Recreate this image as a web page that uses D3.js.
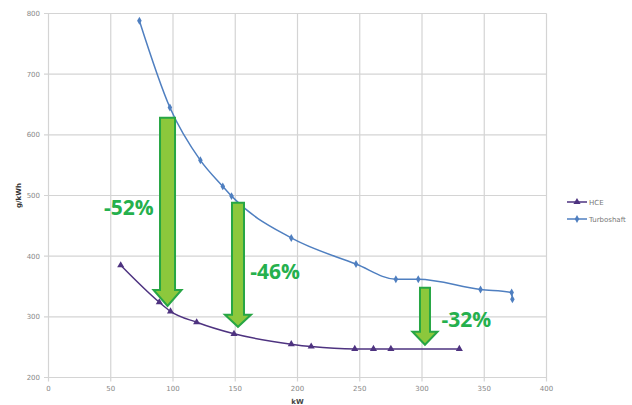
<!DOCTYPE html>
<html><head><meta charset="utf-8">
<script src="https://cdn.jsdelivr.net/npm/d3@7"></script>
<style>body{margin:0;background:#fff}svg{display:block}</style>
</head><body><svg id="c" width="632" height="405"></svg>
<script>
const xTicks = [0,50,100,150,200,250,300,350,400];
const yTicks = [200,300,400,500,600,700,800];
const hceX = [58,89,98,119,149,195,211,246,261,275,330];
const hceY = [385,324,309,291,272,255,251,247,247,247,247];
const turboX = [73,97.5,122,140,147,195,247,279,297,347,372,372.6];
const turboY = [788,645,558,515,499,430,387,362,362,345,340,329];
const seriesNames = ["HCE","Turboshaft"];
const arrowX = [95.6,152.2,302.4];
const arrowTop = [628,488,348];
const arrowTip = [318,283.5,254];
const labelText = ["-52%","-46%","-32%"];
const labelX = [64.6,182,335.7];
const labelY = [481,374,295];

const svg = d3.select("#c");
const x = d3.scaleLinear().domain([0,400]).range([48.5,546.5]);
const y = d3.scaleLinear().domain([200,800]).range([377.5,13.5]);

// grid
svg.append("g").selectAll("line").data(yTicks).join("line")
  .attr("x1",44).attr("x2",x(400)).attr("y1",d=>y(d)).attr("y2",d=>y(d))
  .attr("stroke","#d4d4d4").attr("stroke-width",1.2);
svg.append("g").selectAll("line").data(xTicks).join("line")
  .attr("x1",d=>x(d)).attr("x2",d=>x(d)).attr("y1",y(800)).attr("y2",y(200)+4)
  .attr("stroke","#d4d4d4").attr("stroke-width",1.2);

// tick labels
svg.append("g").selectAll("text").data(yTicks).join("text")
  .attr("x",40).attr("y",d=>y(d)+2.5).attr("text-anchor","end")
  .attr("font-family","DejaVu Sans").attr("font-size",7).attr("fill","#888").text(d=>d);
svg.append("g").selectAll("text").data(xTicks).join("text")
  .attr("x",d=>x(d)).attr("y",391).attr("text-anchor","middle")
  .attr("font-family","DejaVu Sans").attr("font-size",7).attr("fill","#888").text(d=>d);
svg.append("text").attr("x",x(200)).attr("y",404).attr("text-anchor","middle")
  .attr("font-family","DejaVu Sans").attr("font-size",7).attr("font-weight","bold").attr("fill","#444").text("kW");
svg.append("text").attr("transform","translate(21,"+y(500)+") rotate(-90)").attr("text-anchor","middle")
  .attr("font-family","DejaVu Sans").attr("font-size",7).attr("font-weight","bold").attr("fill","#333").text("g/kWh");

const hceC = "#4e3380", turboC = "#4f7fc0";
const line = d3.line().x(d=>x(d[0])).y(d=>y(d[1])).curve(d3.curveMonotoneX);
const hce = hceX.map((v,i)=>[v,hceY[i]]);
const turbo = turboX.map((v,i)=>[v,turboY[i]]);

svg.append("path").attr("d",line(turbo)).attr("fill","none").attr("stroke",turboC).attr("stroke-width",1.5);
svg.append("path").attr("d",line(hce)).attr("fill","none").attr("stroke",hceC).attr("stroke-width",1.5);
const diamond = d3.symbol().type(d3.symbolDiamond).size(18);
const tri = d3.symbol().type(d3.symbolTriangle).size(22);
svg.append("g").selectAll("path").data(turbo).join("path")
  .attr("transform",d=>`translate(${x(d[0])},${y(d[1])})`).attr("d",diamond).attr("fill",turboC);
svg.append("g").selectAll("path").data(hce).join("path")
  .attr("transform",d=>`translate(${x(d[0])},${y(d[1])})`).attr("d",tri).attr("fill",hceC);

// arrows
const shaftW = [15,12,10], headW = [28,26,25], headL = [16,12,13];
arrowX.forEach((ax,i)=>{
  const cx = x(ax), t = y(arrowTop[i]), b = y(arrowTip[i]);
  const sw = shaftW[i]/2, hw = headW[i]/2, hl = headL[i];
  const p = [[cx-sw,t],[cx+sw,t],[cx+sw,b-hl],[cx+hw,b-hl],[cx,b],[cx-hw,b-hl],[cx-sw,b-hl]];
  svg.append("path").attr("d","M"+p.map(q=>q.join(",")).join("L")+"Z")
    .attr("fill","#8cc83c").attr("stroke","#27a644").attr("stroke-width",2).attr("stroke-linejoin","miter");
});
labelText.forEach((s,i)=>{
  svg.append("text").attr("x",x(labelX[i])).attr("y",y(labelY[i])+7.5).attr("text-anchor","middle")
    .attr("font-family","Open Sans").attr("font-weight","bold").attr("font-size",21)
    .attr("fill","#25b04d").text(s);
});

// legend
const lg = [[hceC,tri],[turboC,diamond]];
seriesNames.forEach((n,i)=>{
  const ly = 202 + i*17;
  svg.append("line").attr("x1",567).attr("x2",587).attr("y1",ly).attr("y2",ly).attr("stroke",lg[i][0]).attr("stroke-width",1.5);
  svg.append("path").attr("transform",`translate(577,${ly})`).attr("d",lg[i][1]).attr("fill",lg[i][0]);
  svg.append("text").attr("x",589).attr("y",ly+2.5).attr("font-family","DejaVu Sans").attr("font-size",7).attr("fill","#777").text(n);
});
</script></body></html>
